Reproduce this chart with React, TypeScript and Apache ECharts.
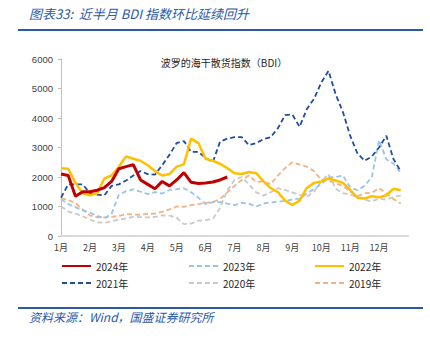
import React, { useEffect, useRef } from "react";
import * as echarts from "echarts";

// x grid: position in months (0 = 1 Jan), quarter-month steps
const monthPos: number[] = Array.from({ length: 48 }, (_, i) => i * 0.25);
const monthLabels = ["1月", "2月", "3月", "4月", "5月", "6月", "7月", "8月", "9月", "10月", "11月", "12月"];

const bdi2024 = [2100, 2050, 1350, 1500, 1500, 1550, 1640, 1850, 2280, 2350, 2420, 1900, 1750, 1600, 1850, 1700, 1900, 2150, 1820, 1780, 1800, 1830, 1900, 2000];
const bdi2023 = [1250, 1080, 980, 870, 790, 680, 600, 750, 1400, 1520, 1580, 1500, 1420, 1490, 1440, 1560, 1590, 1620, 1480, 1300, 1080, 1150, 1150, 1100, 1050, 1120, 1100, 1000, 1100, 1140, 1160, 1190, 1230, 1270, 1440, 1600, 1750, 1980, 2000, 2050, 1650, 1550, 1700, 2000, 3250, 2600, 2450, 2150];
const bdi2022 = [2300, 2280, 1800, 1450, 1380, 1450, 1950, 2050, 2350, 2700, 2620, 2550, 2400, 2200, 2050, 2100, 2350, 2430, 3300, 3150, 2620, 2550, 2450, 2300, 2130, 2100, 2170, 2130, 1850, 1620, 1490, 1200, 1050, 1200, 1630, 1800, 1850, 1950, 1880, 1800, 1560, 1300, 1270, 1350, 1310, 1380, 1600, 1550];
const bdi2021 = [1300, 1750, 1750, 1750, 1450, 1400, 1380, 1700, 1750, 1880, 2050, 2200, 2100, 2080, 2400, 2750, 3150, 3220, 2850, 2850, 2650, 2500, 3200, 3300, 3350, 3350, 3080, 3150, 3280, 3350, 3650, 4100, 4120, 3700, 4300, 4650, 5200, 5600, 4800, 4200, 3400, 2800, 2550, 2700, 3000, 3400, 2600, 2200];
const bdi2020 = [1000, 830, 760, 670, 560, 460, 450, 500, 550, 600, 650, 640, 630, 650, 700, 690, 620, 400, 420, 520, 540, 580, 950, 1550, 1900, 2000, 1750, 1480, 1370, 1480, 1620, 1560, 1480, 1390, 1330, 1500, 1850, 2100, 1600, 1450, 1400, 1320, 1220, 1170, 1270, 1230, 1320, 1380];
const bdi2019 = [1280, 1220, 1120, 900, 700, 630, 630, 650, 680, 740, 730, 720, 750, 760, 820, 900, 1000, 990, 1050, 1080, 1120, 1150, 1250, 1480, 1700, 1900, 2050, 1830, 1850, 1750, 2050, 2300, 2500, 2420, 2350, 2200, 1900, 1880, 1780, 1700, 1500, 1350, 1450, 1470, 1620, 1450, 1250, 1100];

const yTicks = [0, 1000, 2000, 3000, 4000, 5000, 6000];

const FONT = "'Noto Sans CJK SC', 'Noto Sans', sans-serif";

export default function App() {
  const ref = useRef<HTMLDivElement>(null);
  useEffect(() => {
    document.body.style.margin = "0";
    if (!ref.current) return;
    const chart = echarts.init(ref.current, null, { renderer: "svg" });
    const pairs = (vals: number[]) => vals.map((v, i) => [monthPos[i], v]);
    const mk = (name: string, vals: number[], color: string, width: number, dashed: boolean, z: number) => ({
      name,
      type: "line",
      data: pairs(vals),
      showSymbol: false,
      symbol: "none",
      z,
      lineStyle: { color, width, type: dashed ? [5, 3] : "solid" },
      itemStyle: { color },
    });
    const legendPos = [
      { name: "2024年", left: 61, top: 261 },
      { name: "2023年", left: 188, top: 261 },
      { name: "2022年", left: 314, top: 261 },
      { name: "2021年", left: 61, top: 278 },
      { name: "2020年", left: 188, top: 278 },
      { name: "2019年", left: 314, top: 278 },
    ];
    chart.setOption({
      animation: false,
      backgroundColor: "#ffffff",
      title: {
        text: "波罗的海干散货指数（BDI）",
        left: 219,
        textAlign: "center",
        top: 52,
        textStyle: { fontSize: 10, fontWeight: "normal", color: "#262626", fontFamily: FONT },
      },
      grid: { left: 61, right: 22, top: 59, bottom: 105 },
      legend: legendPos.map((l) => ({
        data: [l.name],
        left: l.left,
        top: l.top,
        itemWidth: 29,
        itemHeight: 10,
        padding: 0,
        itemStyle: { opacity: 0 },
        textStyle: { fontSize: 10, color: "#262626", fontFamily: FONT },
      })),
      xAxis: {
        type: "value",
        min: 0,
        max: 12,
        interval: 1,
        splitLine: { show: false },
        axisTick: { show: false },
        axisLine: { lineStyle: { color: "#D9D9D9", width: 2 } },
        axisLabel: {
          showMaxLabel: false,
          fontSize: 9,
          color: "#404040",
          fontFamily: FONT,
          margin: 7,
          formatter: (v: number) => monthLabels[v] ?? "",
        },
      },
      yAxis: {
        type: "value",
        min: yTicks[0],
        max: yTicks[yTicks.length - 1],
        interval: 1000,
        splitLine: { show: false },
        axisLine: { show: true, lineStyle: { color: "#BFBFBF", width: 1 } },
        axisTick: { show: true, length: 3, lineStyle: { color: "#BFBFBF" } },
        axisLabel: {
          fontSize: 9.5,
          color: "#404040",
          fontFamily: "'Liberation Sans', Arial, sans-serif",
          margin: 8,
          formatter: (v: number) => String(v),
        },
      },
      graphic: [
        {
          type: "text",
          left: 29,
          top: 7,
          style: {
            text: "图表33:  近半月 BDI 指数环比延续回升",
            fontSize: 13,
            fontStyle: "italic",
            fill: "#2B5AA6",
            fontFamily: FONT,
          },
        },
        { type: "line", shape: { x1: 18, y1: 30, x2: 423, y2: 30 }, style: { stroke: "#2B5AA6", lineWidth: 2 } },
        { type: "line", shape: { x1: 18, y1: 308, x2: 423, y2: 308 }, style: { stroke: "#2B5AA6", lineWidth: 2 } },
        {
          type: "text",
          left: 29,
          top: 310,
          style: {
            text: "资料来源：Wind，国盛证券研究所",
            fontSize: 12,
            fontStyle: "italic",
            fill: "#2B5AA6",
            fontFamily: FONT,
          },
        },
      ],
      series: [
        mk("2019年", bdi2019, "#F4B183", 1.8, true, 2),
        mk("2020年", bdi2020, "#C9C9C9", 1.8, true, 3),
        mk("2023年", bdi2023, "#9DC3E6", 1.8, true, 4),
        mk("2021年", bdi2021, "#1F4E9F", 1.8, true, 5),
        mk("2022年", bdi2022, "#FFC000", 2.5, false, 6),
        mk("2024年", bdi2024, "#C00000", 3, false, 7),
      ],
    });
    return () => chart.dispose();
  }, []);
  return <div ref={ref} style={{ width: 430, height: 341 }} />;
}
